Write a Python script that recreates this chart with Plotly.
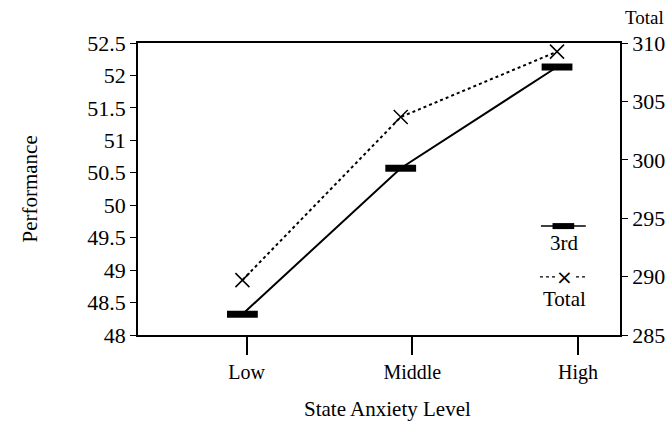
import plotly.graph_objects as go

categories = ["Low", "Middle", "High"]
category_ticks = [0, 1, 2]
point_positions = [-0.025, 0.93, 1.873]
third_values = [48.32, 50.57, 52.13]
total_values = [289.7, 303.66, 309.26]
left_ticks = [48, 48.5, 49, 49.5, 50, 50.5, 51, 51.5, 52, 52.5]
right_ticks = [285, 290, 295, 300, 305, 310]

FONT = "Liberation Serif"
NUMF = dict(family=FONT, size=22, color="black")
TF = dict(family=FONT, size=21, color="black")
fig = go.Figure()

fig.add_trace(go.Scatter(
    x=point_positions, y=third_values, mode="lines+markers", name="3rd",
    line=dict(color="black", width=2),
    marker=dict(symbol="line-ew", size=22, line=dict(color="black", width=7)),
    yaxis="y", showlegend=False))

fig.add_trace(go.Scatter(
    x=point_positions, y=total_values, mode="lines+markers", name="Total",
    line=dict(color="black", width=2, dash="dot"),
    marker=dict(symbol="x-thin", size=14, line=dict(color="black", width=1.5)),
    yaxis="y2", showlegend=False))

# custom legend (symbol above label)
fig.add_shape(type="line", xref="paper", yref="paper", x0=0.836, x1=0.929, y0=0.373, y1=0.373,
              line=dict(color="black", width=1.5))
fig.add_shape(type="line", xref="paper", yref="paper", x0=0.860, x1=0.905, y0=0.373, y1=0.373,
              line=dict(color="black", width=6))
fig.add_annotation(xref="paper", yref="paper", x=0.884, y=0.315, text="3rd", showarrow=False,
                   xanchor="center", yanchor="middle", font=TF)
fig.add_shape(type="line", xref="paper", yref="paper", x0=0.834, x1=0.933, y0=0.199, y1=0.199,
              line=dict(color="black", width=1.2, dash="dot"))
fig.add_annotation(xref="paper", yref="paper", x=0.884, y=0.199, text="×", showarrow=False,
                   xanchor="center", yanchor="middle", bgcolor="white", borderpad=0,
                   font=dict(family="DejaVu Sans", size=20, color="black"))
fig.add_annotation(xref="paper", yref="paper", x=0.884, y=0.125, text="Total", showarrow=False,
                   xanchor="center", yanchor="middle", font=TF)

# axis titles
fig.add_annotation(xref="paper", yref="paper", x=1.050, y=1.089, text="Total", showarrow=False,
                   xanchor="center", yanchor="middle", font=dict(family=FONT, size=19, color="black"))
fig.add_annotation(xref="paper", yref="paper", x=0.517, y=-0.253, text="State Anxiety Level",
                   showarrow=False, xanchor="center", yanchor="middle", font=TF)
fig.add_annotation(xref="paper", yref="paper", x=-0.225, y=0.5, text="Performance",
                   showarrow=False, textangle=-90, xanchor="center", yanchor="middle", font=TF)

fig.update_layout(
    width=671, height=421,
    margin=dict(l=138, r=51, t=43, b=86, autoexpand=False),
    paper_bgcolor="white", plot_bgcolor="white",
    font=TF,
    xaxis=dict(
        range=[-0.655, 2.253], tickvals=category_ticks, ticktext=categories,
        automargin=False, tickfont=dict(family=FONT, size=20, color="black"),
        showline=True, linecolor="black", linewidth=1.5, mirror=True,
        ticks="outside", ticklen=18, tickwidth=1.5, tickcolor="black",
        showgrid=False, zeroline=False,
    ),
    yaxis=dict(
        range=[48, 52.5], tickvals=left_ticks, automargin=False, tickfont=NUMF,
        showline=True, linecolor="black", linewidth=1.5,
        ticks="outside", ticklen=6, tickwidth=1.3, tickcolor="black",
        showgrid=False, zeroline=False,
    ),
    yaxis2=dict(
        overlaying="y", side="right", range=[285, 310], tickvals=right_ticks,
        automargin=False, tickfont=NUMF,
        showline=True, linecolor="black", linewidth=1.5,
        ticks="outside", ticklen=6, tickwidth=1.3, tickcolor="black",
        showgrid=False, zeroline=False,
    ),
)

fig.write_html(
    "out.html",
    config={"displayModeBar": False},
    post_script="document.body.style.margin='0';document.documentElement.style.overflow='hidden';",
)
